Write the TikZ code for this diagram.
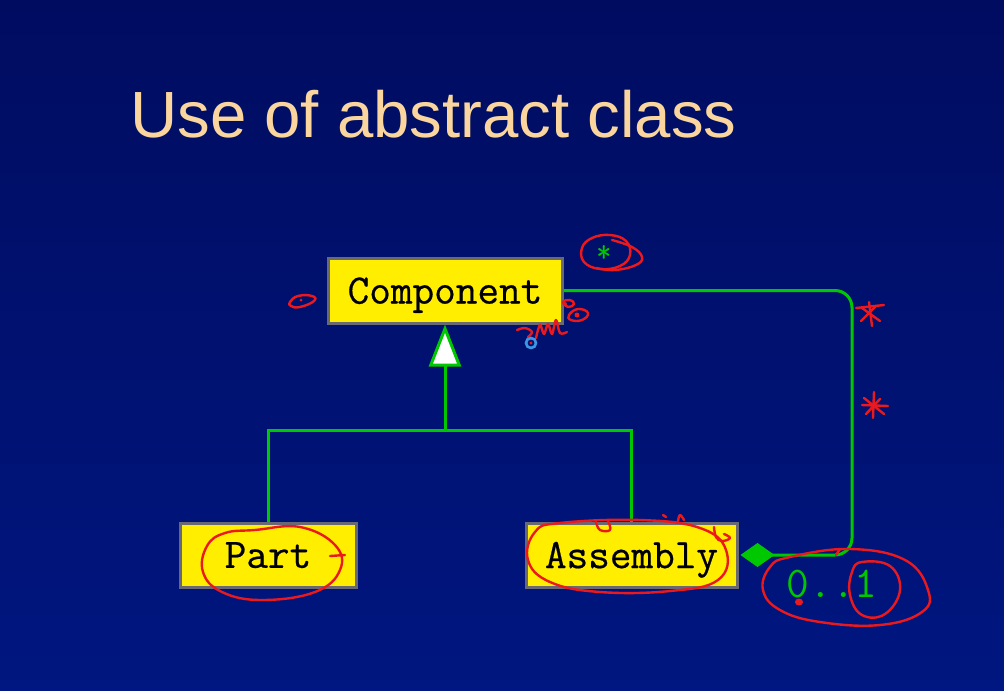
\documentclass[tikz,border=0pt]{standalone}
\usepackage{fontspec}
\setmainfont{Liberation Sans}
\newfontfamily\boxfont[FakeBold=0.5]{Latin Modern Mono}
\newfontfamily\multfont{Latin Modern Mono}
\usetikzlibrary{arrows.meta}
\definecolor{bgtop}{RGB}{0,12,96}
\definecolor{bgbot}{RGB}{0,22,128}
\definecolor{titlecol}{RGB}{250,214,158}
\definecolor{boxfill}{RGB}{255,238,0}
\definecolor{boxline}{RGB}{105,105,115}
\definecolor{umlgreen}{RGB}{0,200,0}
\definecolor{ink}{RGB}{235,25,30}
\definecolor{penblue}{RGB}{60,150,230}
\tikzset{
  classbox/.style={draw=boxline, line width=2.25pt, fill=boxfill, inner sep=0pt,
    text depth=0pt, font=\boxfont\fontsize{31.5}{36}\selectfont, text=black},
  umlline/.style={draw=umlgreen, line width=2.25pt},
  multlabel/.style={text=umlgreen, font=\multfont\fontsize{33}{36}\selectfont, inner sep=0pt},
  pen/.style={draw=ink, line width=1.8pt, line cap=round, line join=round}
}
\begin{document}
\begin{tikzpicture}[x=0.75pt,y=-0.75pt]
  % slide background
  \shade[top color=bgtop, bottom color=bgbot] (0,0) rectangle (1004,690);
  \useasboundingbox (0,0) rectangle (1004,690);

  % title
  \node[anchor=base west, inner sep=0pt, text=titlecol, font=\fontsize{49}{56}\selectfont]
    (title) at (130,137) {Use of abstract class};

  % classes
  \node[classbox, minimum width=175.5pt, minimum height=48.75pt] (comp) at (445,290.5) {Component};
  \node[classbox, minimum width=132pt, minimum height=48pt] (part) at (268,555) {Part};
  \node[classbox, minimum width=158.25pt, minimum height=48pt] (asm) at (631.5,555) {Assembly};

  % generalisation
  \coordinate (hub) at (445,430);
  \draw[umlline] (part.north) |- (hub) -| (asm.north);
  \draw[umlline, -{Triangle[length=31.5pt, width=24pt, fill=white]}] (hub) -- (comp.south);

  % aggregation with rounded route
  \coordinate (turnlow) at (852,555);
  \coordinate (turnhigh) at (852,290.5);
  \draw[umlline, rounded corners=12.75pt, {Diamond[length=25.5pt, width=18pt, fill=umlgreen]}-, shorten <=1.5pt]
    (asm.east) -- (turnlow) -- (turnhigh) -- (comp.east);

  % multiplicities
  \node[multlabel, font=\sffamily\fontsize{24}{24}\selectfont] (many) at (604,258) {*};
  \node[multlabel] (opt) at (832,584) {0..1};

  % pen annotations
  \draw[pen] plot[smooth cycle, tension=0.7] coordinates {(582,248) (592,238) (610,235) (626,241) (630,255) (620,266) (600,269) (584,262)};
  \draw[pen] plot[smooth, tension=0.7] coordinates {(612,240) (632,247) (642,257) (636,265) (615,270) (596,268)};
  \draw[pen] plot[smooth cycle, tension=0.8] coordinates {(290,302) (298,296) (312,296) (314,301) (300,307) (291,306)};
  \fill[ink] (301,300) circle (1.5);
  \draw[pen] plot[smooth, tension=0.6] coordinates {(517,330) (525,328) (532,332) (528,337)};
  \draw[pen] plot[smooth, tension=0.6] coordinates {(536,338) (540,325) (544,334) (548,324) (552,334) (556,320) (560,333) (567,332)};
  \draw[pen] plot[smooth cycle, tension=0.8] coordinates {(563,302) (570,300) (574,304) (568,307)};
  \draw[pen] plot[smooth cycle, tension=0.8] coordinates {(569,315) (578,309) (588,313) (582,320) (571,320)};
  \fill[ink] (565,304) circle (2);
  \fill[ink] (577,315) circle (2.5);
  \draw[draw=penblue, line width=2pt] (531,343) circle (5);
  \fill[ink] (531,343) circle (1.6);

  % asterisks beside the association
  \draw[pen] (856,308) -- (884,305);
  \draw[pen] (869,302) -- (872,326);
  \draw[pen] (875,307) -- (861,321);
  \draw[pen] (862,308) -- (880,321);
  \draw[pen] (862,405) -- (888,406);
  \draw[pen] (874,392) -- (873,418);
  \draw[pen] (864,398) -- (884,414);
  \draw[pen] (866,414) -- (880,399);

  % circles round the class names
  \draw[pen] plot[smooth cycle, tension=0.7] coordinates {(255,530) (300,527) (335,545) (340,570) (315,592) (262,600) (222,592) (203,572) (207,546) (225,533)};
  \draw[pen] (330,556) -- (345,555);
  \draw[pen] plot[smooth cycle, tension=0.7] coordinates {(560,523) (640,520) (700,528) (726,550) (718,580) (670,591) (600,592) (550,582) (528,560) (535,532)};
  \draw[pen] plot[smooth, tension=0.7] coordinates {(596,522) (600,530) (610,530) (608,521)};
  \draw[pen] plot[smooth, tension=0.7] coordinates {(663,515) (666,517)};
  \draw[pen] plot[smooth, tension=0.7] coordinates {(678,521) (680,515) (684,520)};
  \draw[pen] plot[smooth, tension=0.7] coordinates {(714,527) (716,537) (722,541) (730,538) (724,534)};

  % circles round the multiplicity
  \draw[pen] plot[smooth cycle, tension=0.7] coordinates {(790,557) (850,549) (905,560) (928,590) (922,612) (880,625) (820,622) (780,610) (763,590) (770,567)};
  \draw[pen] plot[smooth cycle, tension=0.7] coordinates {(862,562) (890,566) (900,590) (885,614) (862,615) (850,595) (852,572)};
  \draw[pen] (836,555) -- (840,549);
  \fill[ink] (799,602) ellipse (4 and 3.5);
\end{tikzpicture}
\end{document}
